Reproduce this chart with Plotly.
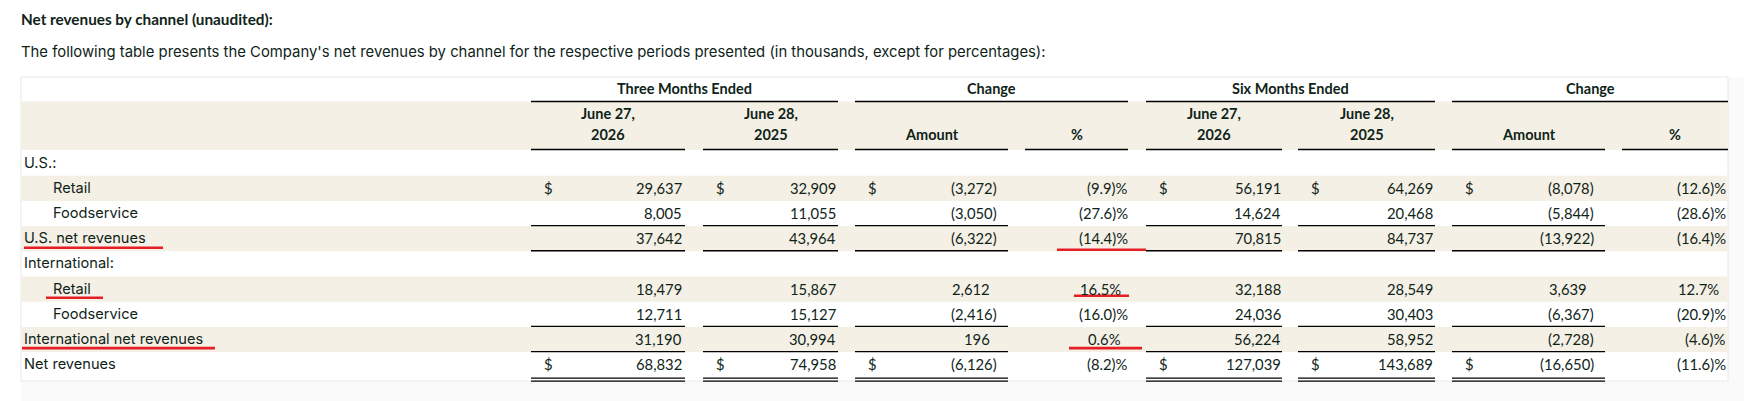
import plotly.graph_objects as go

W, H = 1744, 401

# ---------------- data ----------------
title = "Net revenues by channel (unaudited):"
subtitle = ("The following table presents the Company's net revenues by channel for the "
            "respective periods presented (in thousands, except for percentages):")
group_headers = ["Three Months Ended", "Change", "Six Months Ended", "Change"]
col_head_top = ["June 27,", "June 28,", "", "", "June 27,", "June 28,", "", ""]
col_head_bot = ["2026", "2025", "Amount", "%", "2026", "2025", "Amount", "%"]

row_labels = ["U.S.:", "Retail", "Foodservice", "U.S. net revenues", "International:",
              "Retail", "Foodservice", "International net revenues", "Net revenues"]
row_indent = [0, 1, 1, 0, 0, 1, 1, 0, 0]

q_2026 = [None, 29637, 8005, 37642, None, 18479, 12711, 31190, 68832]
q_2025 = [None, 32909, 11055, 43964, None, 15867, 15127, 30994, 74958]
q_chg = [None, -3272, -3050, -6322, None, 2612, -2416, 196, -6126]
q_pct = [None, -9.9, -27.6, -14.4, None, 16.5, -16.0, 0.6, -8.2]
s_2026 = [None, 56191, 14624, 70815, None, 32188, 24036, 56224, 127039]
s_2025 = [None, 64269, 20468, 84737, None, 28549, 30403, 58952, 143689]
s_chg = [None, -8078, -5844, -13922, None, 3639, -6367, -2728, -16650]
s_pct = [None, -12.6, -28.6, -16.4, None, 12.7, -20.9, -4.6, -11.6]

columns = [q_2026, q_2025, q_chg, q_pct, s_2026, s_2025, s_chg, s_pct]
col_kind = ["amt", "amt", "amt", "pct", "amt", "amt", "amt", "pct"]
dollar_rows = [1, 8]
beige_rows = [1, 3, 5, 7]
total_rows = [3, 7]          # single rule above and below
grand_total_row = 8          # double rule below

# highlighted (red underline) cells: (row, column or "label")
highlights = [(3, "label"), (5, "label"), (7, "label"), (3, 3), (5, 3), (7, 3)]

# ---------------- layout / style ----------------
TEXT = "#0f2418"
BEIGE = "#f5f0e6"
BORDER = "#e8e8e8"
RED = "#e61e25"
HEAD_FONT = "Lato"
LABEL_FONT = "Inter"
NUM_FONT = "Lato"

cell_left = [531, 703, 855, 1025, 1146, 1298, 1452, 1622]
cell_right = [685, 838, 1008, 1128, 1282, 1435, 1605, 1728]
digit_right = [682, 836, 990, 1121, 1281, 1433, 1587, 1719]
HANG = 7
DOLLAR_OFF = 13
group_span = [(0, 1), (2, 3), (4, 5), (6, 7)]

TAB_L, TAB_R, TAB_T, TAB_B = 21, 1728, 77, 381
HDR2_T, HDR2_B = 101.5, 150
ROW0, PITCH = 150.5, 25.2
LABEL_X, INDENT = 24, 29


def row_top(i):
    return ROW0 + PITCH * i


def row_mid(i):
    return row_top(i) + PITCH / 2


shapes = []
annotations = []


def rect(x0, x1, y0, y1, color, line=None):
    shapes.append(dict(type="rect", xref="x", yref="y", x0=x0, x1=x1, y0=y0, y1=y1,
                       fillcolor=color, line=dict(width=0) if line is None else line,
                       layer="below"))


def hline(x0, x1, y, color="#000000", width=1.4):
    shapes.append(dict(type="line", xref="x", yref="y", x0=x0, x1=x1, y0=y, y1=y,
                       line=dict(color=color, width=width)))


def text(x, y, s, anchor="left", size=14, bold=False, color=TEXT, family=LABEL_FONT):
    annotations.append(dict(x=x, y=y, xref="x", yref="y", text=s, showarrow=False,
                            xanchor=anchor, yanchor="middle", borderpad=0, borderwidth=0,
                            font=dict(family=family, size=size, color=color,
                                      weight=700 if bold else 400)))


# outer light area (scroll region)
rect(TAB_L, W, TAB_B, H, "#fafafa")
rect(TAB_R, W, TAB_T, H, "#fafafa")
# table box
rect(TAB_L, TAB_R, TAB_T, TAB_B, "#ffffff", line=dict(color=BORDER, width=1))
# header beige
rect(TAB_L + 0.5, TAB_R - 0.5, HDR2_T, HDR2_B, BEIGE)
for r in beige_rows:
    rect(TAB_L + 0.5, TAB_R - 0.5, row_top(r), row_top(r + 1), BEIGE)

# title / subtitle
text(21, 18.5, title, size=15.3, bold=True, family=HEAD_FONT)
text(21, 52, subtitle, size=14.85)

# group headers
for g, (a, b) in zip(group_headers, group_span):
    text((cell_left[a] + cell_right[b]) / 2, 88, g, anchor="center", size=14.5, bold=True,
         family=HEAD_FONT)
    hline(cell_left[a], cell_right[b], HDR2_T)

# column headers
for c in range(len(columns)):
    cx = (cell_left[c] + cell_right[c]) / 2
    if col_head_top[c]:
        text(cx, 113, col_head_top[c], anchor="center", size=14.5, bold=True, family=HEAD_FONT)
    text(cx, 134, col_head_bot[c], anchor="center", size=14.5, bold=True, family=HEAD_FONT)
    hline(cell_left[c], cell_right[c], HDR2_B - 0.5)

# row labels
for r, lab in enumerate(row_labels):
    text(LABEL_X + INDENT * row_indent[r], row_mid(r) - 0.5, lab, size=14.6)


def fmt(v, kind):
    if kind == "pct":
        return f"({abs(v):.1f})%" if v < 0 else f"{v:.1f}%"
    return f"({abs(v):,})" if v < 0 else f"{v:,}"


# values
for c, col in enumerate(columns):
    kind = col_kind[c]
    for r, v in enumerate(col):
        if v is None:
            continue
        x = digit_right[c] + (HANG if v < 0 else 0)
        text(x, row_mid(r) - 0.5, fmt(v, kind), anchor="right", size=14.8, family=NUM_FONT)
        if kind == "amt" and r in dollar_rows:
            text(cell_left[c] + DOLLAR_OFF, row_mid(r) - 0.5, "$", anchor="left", size=14.8,
                 family=NUM_FONT)
    if kind == "amt":
        for r in total_rows:
            hline(cell_left[c], cell_right[c], row_top(r) - 0.5)
            hline(cell_left[c], cell_right[c], row_top(r + 1) - 0.5)
        yb = row_top(grand_total_row + 1)
        hline(cell_left[c], cell_right[c], yb + 0.8, width=1.2)
        hline(cell_left[c], cell_right[c], yb + 3.8, width=1.2)

# red underline highlights
label_span = {3: (0, 139), 5: (-7, 50), 7: (-2, 191)}
pct_span = {3: (-64, 25), 5: (-47, 8), 7: (-52, 21)}
label_drop = {3: -3.5, 5: -4, 7: -4}
pct_drop = {3: -1.5, 5: -6, 7: -4}
for r, c in highlights:
    if c == "label":
        base = LABEL_X + INDENT * row_indent[r]
        x0, x1 = base + label_span[r][0], base + label_span[r][1]
        y = row_top(r + 1) + label_drop[r]
    else:
        d0, d1 = pct_span[r]
        x0, x1 = digit_right[c] + d0, digit_right[c] + d1
        y = row_top(r + 1) + pct_drop[r]
    hline(x0, x1, y, color=RED, width=2.6)

fig = go.Figure()
fig.update_layout(
    width=W, height=H,
    margin=dict(l=0, r=0, t=0, b=0),
    paper_bgcolor="#ffffff", plot_bgcolor="#ffffff",
    xaxis=dict(range=[0, W], visible=False, fixedrange=True),
    yaxis=dict(range=[H, 0], visible=False, fixedrange=True),
    shapes=shapes, annotations=annotations, showlegend=False,
)
fig.write_html("out.html", config={"displayModeBar": False},
               post_script="document.body.style.margin='0';document.body.style.overflow='hidden';")
